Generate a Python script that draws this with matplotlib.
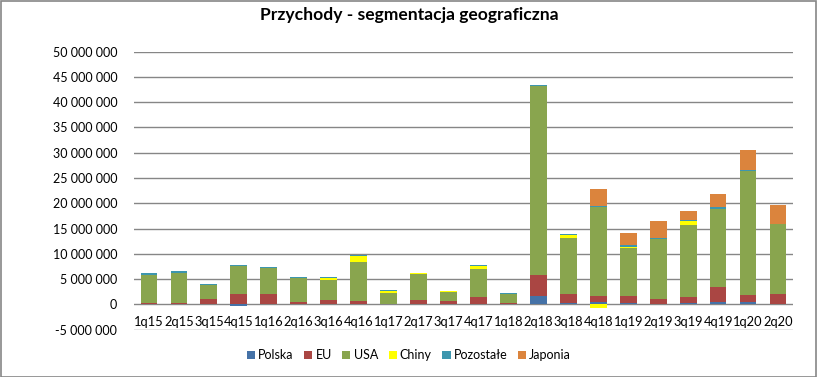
import numpy as np
import matplotlib
matplotlib.use('Agg')
import matplotlib.pyplot as plt
from matplotlib.patches import Patch, Rectangle
from matplotlib.ticker import FuncFormatter

# quarterly revenue by region, values in millions
quarters = ['1q15', '2q15', '3q15', '4q15', '1q16', '2q16', '3q16', '4q16', '1q17', '2q17', '3q17',
            '4q17', '1q18', '2q18', '3q18', '4q18', '1q19', '2q19', '3q19', '4q19', '1q20', '2q20']
polska = [0, 0, 0.1, -0.4, 0, 0, 0, 0, 0, 0, 0, 0.1, 0, 1.67, 0.2, 0.46, 0.2, 0, 0.2, 0.46, 0.46, 0.15]
eu = [0.33, 0.3, 0.97, 2.13, 2.13, 0.53, 0.93, 0.73, 0.1, 0.87, 0.67, 1.37, 0.33, 4.2, 1.93, 1.19,
      1.45, 1.0, 1.25, 2.9, 1.32, 1.83]
usa = [5.54, 5.97, 2.66, 5.4, 5.0, 4.6, 3.8, 7.74, 2.17, 5.06, 1.86, 5.6, 1.8, 37.33, 11.0, 17.6,
       9.5, 11.9, 14.35, 15.45, 24.55, 13.85]
chiny = [0, 0, 0, 0, 0, 0, 0.4, 1.07, 0.4, 0.2, 0.13, 0.6, 0, 0, 0.6, -0.7, 0.2, 0, 0.6, 0, 0, 0]
pozostale = [0.27, 0.27, 0.2, 0.2, 0.2, 0.2, 0.2, 0.2, 0.2, 0.05, 0.05, 0.2, 0.2, 0.25, 0.25, 0.25,
             0.33, 0.2, 0.27, 0.4, 0.27, 0.05]
japonia = [0, 0, 0, 0, 0, 0, 0, 0, 0, 0, 0, 0, 0, 0, 0, 3.4, 2.35, 3.3, 1.9, 2.57, 3.9, 3.77]

series = [('Polska', polska, '#4572A7'),
          ('EU', eu, '#AA4643'),
          ('USA', usa, '#89A54E'),
          ('Chiny', chiny, '#FFFF00'),
          ('Pozostałe', pozostale, '#3D96AE'),
          ('Japonia', japonia, '#DB843D')]

plt.rcParams['font.family'] = ['Lato', 'DejaVu Sans']

fig = plt.figure(figsize=(8.18, 3.77), dpi=100)
ax = fig.add_axes([0.1638, 0.1257, 0.8056, 0.7372])

x = np.arange(len(quarters))
pos_bottom = np.zeros(len(quarters))
neg_bottom = np.zeros(len(quarters))
for name, vals, color in series:
    v = np.array(vals) * 1e6
    bottom = np.where(v >= 0, pos_bottom, neg_bottom)
    ax.bar(x, v, bottom=bottom, width=0.56, color=color, zorder=3)
    pos_bottom += np.where(v >= 0, v, 0)
    neg_bottom += np.where(v < 0, v, 0)

ax.set_ylim(-5e6, 50e6)
ax.set_xlim(-0.5, len(quarters) - 0.5)
ax.set_yticks(np.arange(-5e6, 50e6 + 1, 5e6))
ax.yaxis.set_major_formatter(FuncFormatter(lambda v, p: '{:,.0f}'.format(v).replace(',', ' ')))
ax.grid(axis='y', color='#868686', linewidth=1, zorder=0)
for s in ax.spines.values():
    s.set_visible(False)
ax.tick_params(axis='y', length=0, labelsize=9, pad=12)
ax.set_xticks([])
# category labels sit just under the zero line
for i, q in enumerate(quarters):
    ax.text(i, -3.5e6, q, ha='center', va='center', fontsize=9.3)

fig.text(0.5, 0.96, 'Przychody - segmentacja geograficzna', ha='center', va='center',
         fontsize=12.6, fontweight='bold')

handles = [Patch(facecolor=c, label=n) for n, v, c in series]
fig.legend(handles=handles, loc='center', bbox_to_anchor=(0.5, 0.058), ncol=6, frameon=False,
           fontsize=9, handlelength=0.65, handleheight=0.65, handletextpad=0.25,
           columnspacing=0.85)

fig.patches.append(Rectangle((0.001, 0.001), 0.997, 0.997, transform=fig.transFigure,
                             fill=False, edgecolor='#868686', linewidth=1.2))

plt.savefig('out.png', dpi=100)
